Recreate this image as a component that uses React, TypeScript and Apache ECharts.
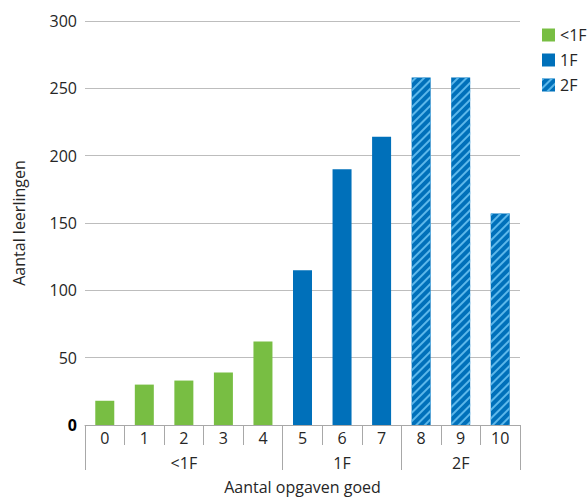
import React, { useEffect, useRef } from "react";
import * as echarts from "echarts";

const categories = ["0", "1", "2", "3", "4", "5", "6", "7", "8", "9", "10"];
const counts = [18, 30, 33, 39, 62, 115, 190, 214, 258, 258, 157];
const levels = ["<1F", "<1F", "<1F", "<1F", "<1F", "1F", "1F", "1F", "2F", "2F", "2F"];
const levelNames = ["<1F", "1F", "2F"];
const yTicks = [0, 50, 100, 150, 200, 250, 300];

const GREEN = "#78BE43";
const BLUE = "#0070BA";
const STRIPE = "#5CB7EA";
const FONT = "Open Sans";
const TXT = "#262626";
const FS = 16;

export default function App() {
  const ref = useRef<HTMLDivElement>(null);
  useEffect(() => {
    if (!ref.current) return;
    document.body.style.margin = "0";
    const chart = echarts.init(ref.current, null, { renderer: "svg" });

    const groupStarts: number[] = [];
    const groupCentres: Record<number, string> = {};
    levelNames.forEach((lv) => {
      const idx = levels.map((l, i) => (l === lv ? i : -1)).filter((i) => i >= 0);
      groupStarts.push(idx[0]);
      const c = Math.floor((idx[0] + idx[idx.length - 1]) / 2);
      groupCentres[c] = lv;
    });

    const styleFor = (lv: string) => {
      if (lv === "<1F") return { color: GREEN };
      if (lv === "1F") return { color: BLUE };
      return {
        color: BLUE,
        decal: {
          symbol: "rect",
          symbolSize: 1,
          color: STRIPE,
          dashArrayX: [1, 0],
          dashArrayY: [2, 4],
          rotation: -Math.PI / 4,
        },
      };
    };

    const series = levelNames.map((lv) => ({
      name: lv,
      type: "bar",
      barWidth: 19,
      barGap: "-100%",
      itemStyle: styleFor(lv),
      data: counts.map((v, i) => (levels[i] === lv ? v : null)),
    }));

    chart.setOption({
      animation: false,
      textStyle: { fontFamily: FONT },
      grid: { left: 85, right: 67, top: 21, bottom: 75 },
      legend: {
        orient: "vertical",
        left: 537,
        top: 22,
        itemWidth: 13,
        itemHeight: 13,
        itemGap: 9,
        icon: "rect",
        textStyle: { fontSize: FS, color: TXT, fontFamily: FONT },
        data: levelNames,
      },
      xAxis: [
        {
          type: "category",
          data: categories,
          position: "bottom",
          name: "Aantal opgaven goed",
          nameLocation: "middle",
          nameGap: 54,
          nameTextStyle: { fontSize: FS, color: TXT, fontFamily: FONT },
          axisLine: { show: true, lineStyle: { color: "#A8A8A8", width: 1 } },
          axisTick: { show: true, length: 20, lineStyle: { color: "#A8A8A8" } },
          axisLabel: { fontSize: FS, color: TXT, margin: 5, fontFamily: FONT },
        },
        {
          type: "category",
          data: categories,
          position: "bottom",
          offset: 0,
          axisLine: { show: false },
          axisTick: {
            show: true,
            length: 45,
            interval: (i: number) => groupStarts.includes(i),
            lineStyle: { color: "#A8A8A8" },
          },
          axisLabel: {
            fontSize: FS,
            color: TXT,
            margin: 30,
            fontFamily: FONT,
            interval: (i: number) => groupCentres[i] !== undefined,
            formatter: (_v: string, i: number) => groupCentres[i] ?? "",
          },
        },
      ],
      yAxis: {
        type: "value",
        min: yTicks[0],
        max: yTicks[yTicks.length - 1],
        interval: yTicks[1] - yTicks[0],
        name: "Aantal leerlingen",
        nameLocation: "middle",
        nameGap: 58,
        nameTextStyle: { fontSize: FS, color: TXT, fontFamily: FONT },
        axisLine: { show: false },
        axisTick: { show: false },
        splitLine: { lineStyle: { color: "#BDBDBD", width: 1 } },
        axisLabel: {
          fontSize: FS,
          color: TXT,
          margin: 8,
          fontFamily: FONT,
          formatter: (v: number) => (v === 0 ? "{z|0}" : String(v)),
          rich: { z: { fontSize: FS, fontWeight: "bold", color: "#000", fontFamily: FONT } },
        },
      },
      series,
    });
    return () => chart.dispose();
  }, []);
  return <div ref={ref} style={{ width: 587, height: 500 }} />;
}
